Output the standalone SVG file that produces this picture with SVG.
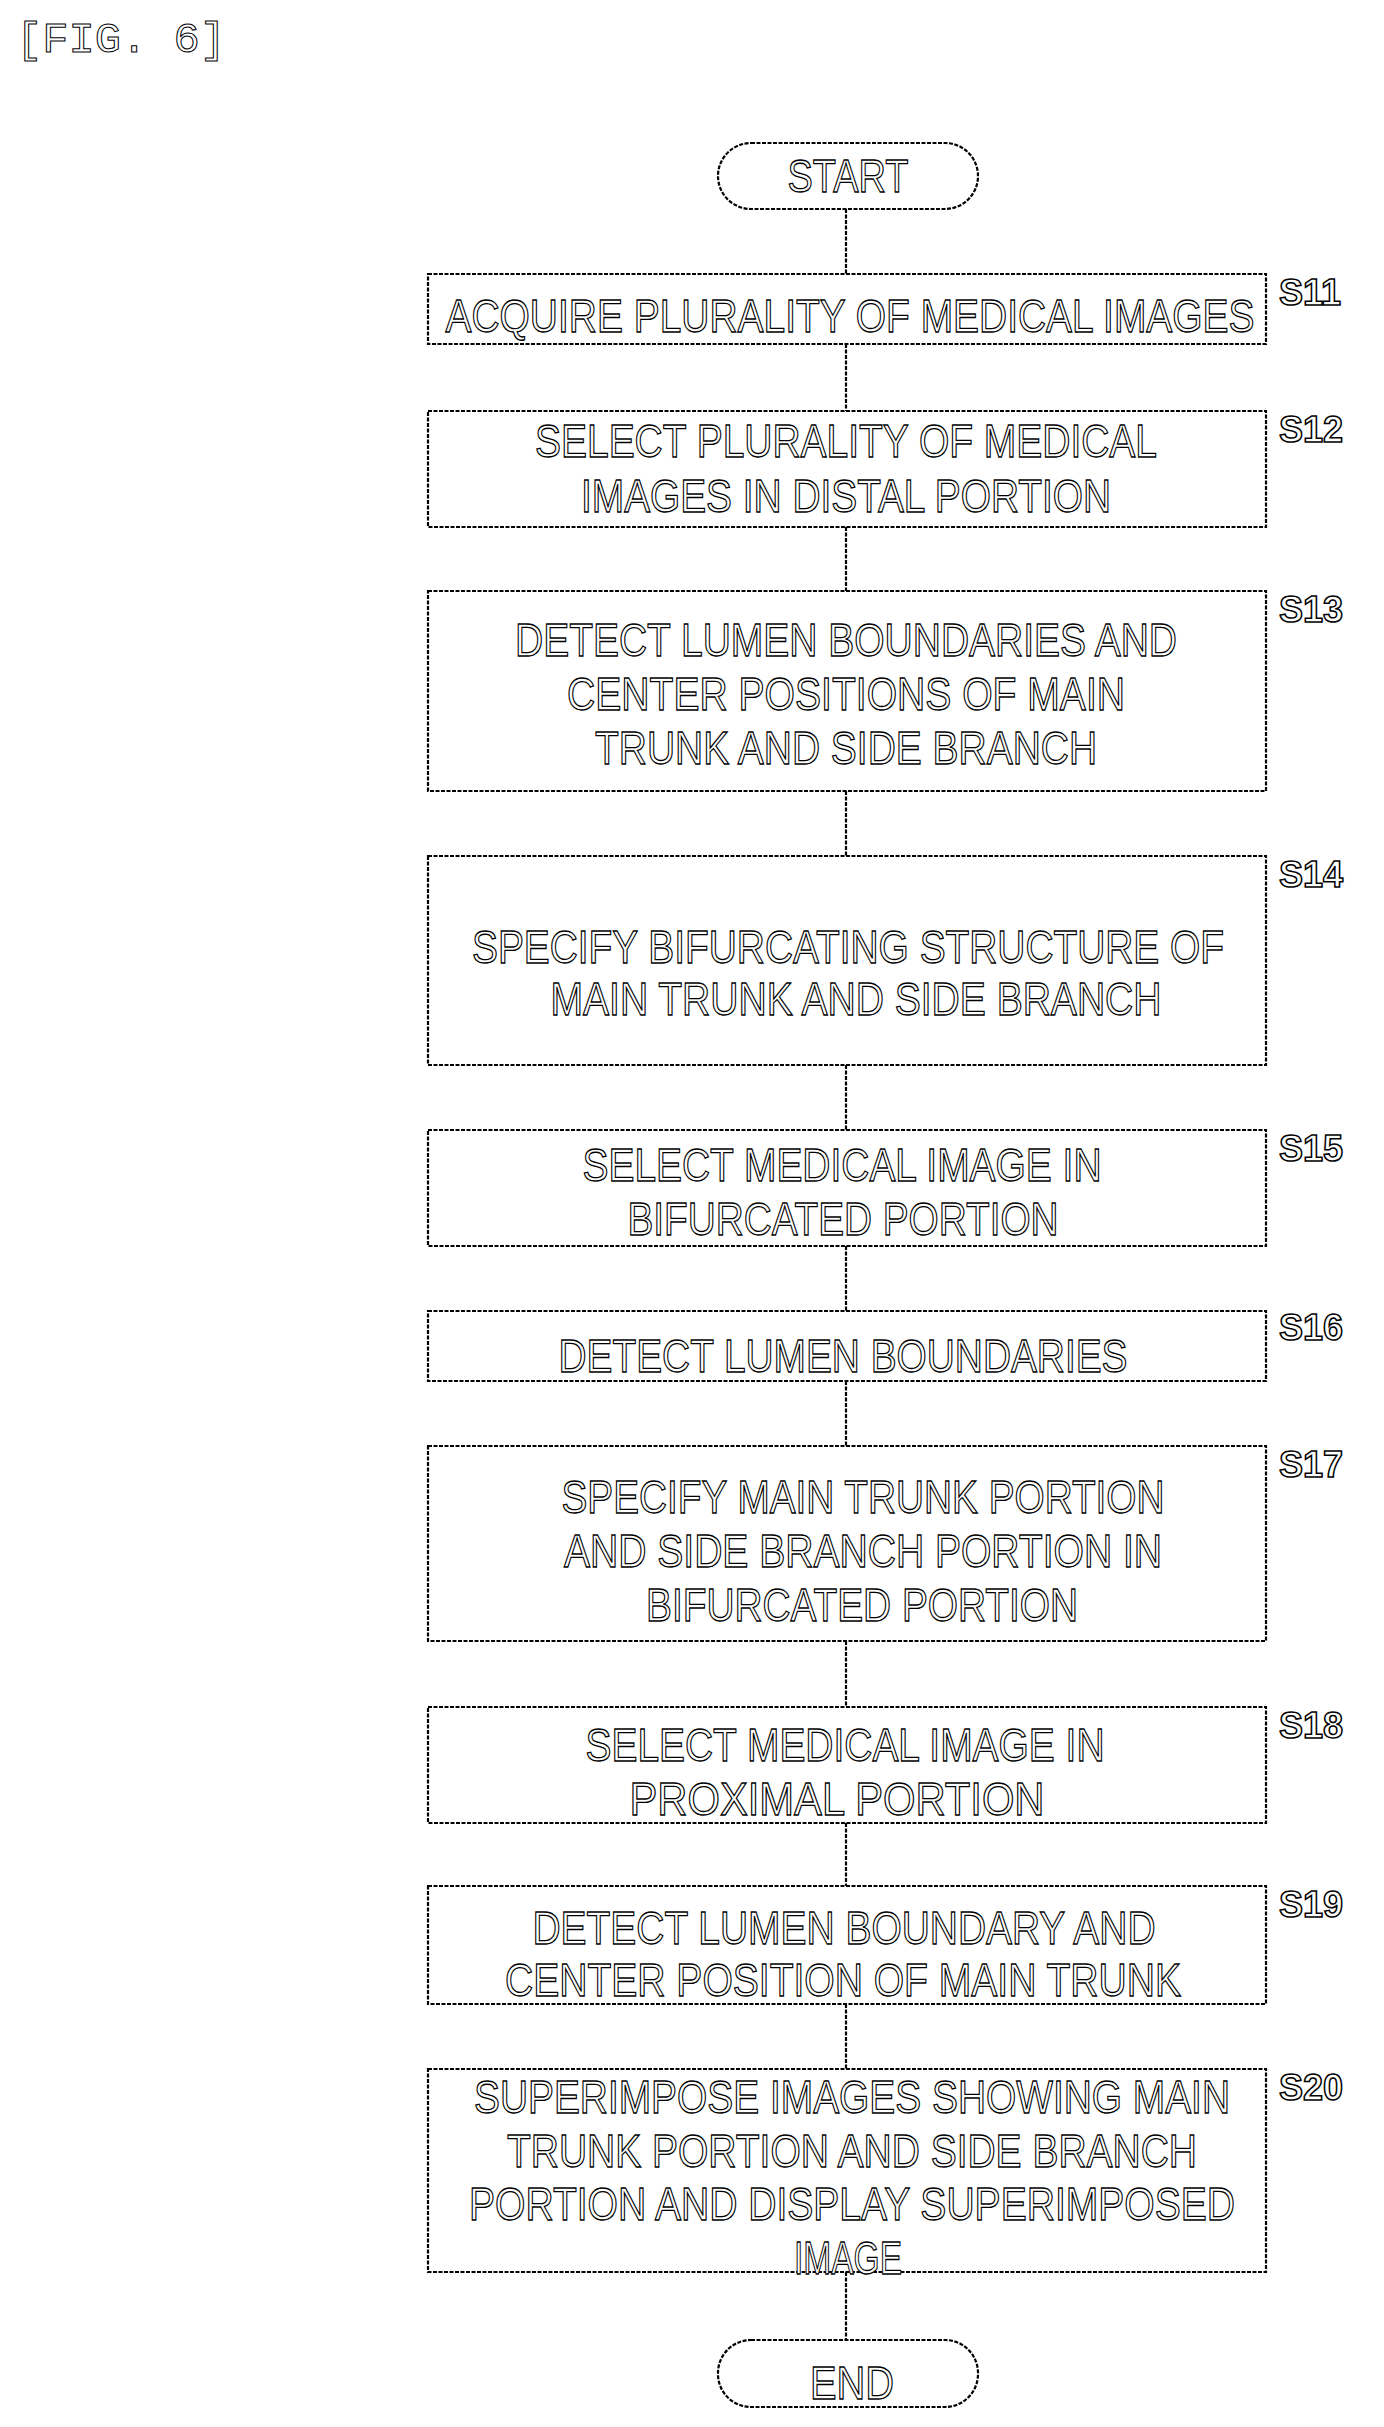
<svg xmlns="http://www.w3.org/2000/svg" width="1384" height="2427" viewBox="0 0 1384 2427">
<style>
.b{fill:#fff;stroke:#000;stroke-width:2.2;stroke-dasharray:4 1.5}
.c{stroke:#000;stroke-width:2.2;stroke-dasharray:4 1.5;fill:none}
.t{font-family:"Liberation Sans",Arial,sans-serif;font-size:47px;fill:#fff;stroke:#000;stroke-width:1.3;text-anchor:middle}
.l{font-family:"Liberation Sans",Arial,sans-serif;font-size:36px;font-weight:bold;fill:#fff;stroke:#000;stroke-width:1.5}
.f{font-family:"Liberation Mono","DejaVu Sans Mono",monospace;font-size:42px;fill:#fff;stroke:#000;stroke-width:1}
</style>
<rect width="1384" height="2427" fill="#fff"/>
<text class="f" x="16" y="52" textLength="210" lengthAdjust="spacingAndGlyphs">[FIG. 6]</text>
<g id="connectors">
<line class="c" x1="846" y1="209" x2="846" y2="274"/>
<line class="c" x1="846" y1="344" x2="846" y2="411"/>
<line class="c" x1="846" y1="527" x2="846" y2="591"/>
<line class="c" x1="846" y1="791" x2="846" y2="856"/>
<line class="c" x1="846" y1="1065" x2="846" y2="1130"/>
<line class="c" x1="846" y1="1246" x2="846" y2="1311"/>
<line class="c" x1="846" y1="1381" x2="846" y2="1446"/>
<line class="c" x1="846" y1="1641" x2="846" y2="1707"/>
<line class="c" x1="846" y1="1823" x2="846" y2="1886"/>
<line class="c" x1="846" y1="2004" x2="846" y2="2069"/>
<line class="c" x1="846" y1="2272" x2="846" y2="2340"/>
</g>
<g id="start"><rect class="b" x="718" y="143" width="260" height="66" rx="33"/><text class="t" x="848" y="192" textLength="121" lengthAdjust="spacingAndGlyphs">START</text></g>
<g id="s11"><rect class="b" x="428" y="274" width="838" height="70"/><text class="t" x="850" y="332" textLength="809" lengthAdjust="spacingAndGlyphs">ACQUIRE PLURALITY OF MEDICAL IMAGES</text><text class="l" x="1279" y="305">S11</text></g>
<g id="s12"><rect class="b" x="428" y="411" width="838" height="116"/><text class="t" x="846" y="457" textLength="622" lengthAdjust="spacingAndGlyphs">SELECT PLURALITY OF MEDICAL</text><text class="t" x="846" y="512" textLength="530" lengthAdjust="spacingAndGlyphs">IMAGES IN DISTAL PORTION</text><text class="l" x="1279" y="442">S12</text></g>
<g id="s13"><rect class="b" x="428" y="591" width="838" height="200"/><text class="t" x="846" y="656" textLength="662" lengthAdjust="spacingAndGlyphs">DETECT LUMEN BOUNDARIES AND</text><text class="t" x="846" y="710" textLength="558" lengthAdjust="spacingAndGlyphs">CENTER POSITIONS OF MAIN</text><text class="t" x="846" y="764" textLength="502" lengthAdjust="spacingAndGlyphs">TRUNK AND SIDE BRANCH</text><text class="l" x="1279" y="622">S13</text></g>
<g id="s14"><rect class="b" x="428" y="856" width="838" height="209"/><text class="t" x="848" y="963" textLength="752" lengthAdjust="spacingAndGlyphs">SPECIFY BIFURCATING STRUCTURE OF</text><text class="t" x="856" y="1015" textLength="611" lengthAdjust="spacingAndGlyphs">MAIN TRUNK AND SIDE BRANCH</text><text class="l" x="1279" y="887">S14</text></g>
<g id="s15"><rect class="b" x="428" y="1130" width="838" height="116"/><text class="t" x="842" y="1181" textLength="519" lengthAdjust="spacingAndGlyphs">SELECT MEDICAL IMAGE IN</text><text class="t" x="843" y="1235" textLength="431" lengthAdjust="spacingAndGlyphs">BIFURCATED PORTION</text><text class="l" x="1279" y="1161">S15</text></g>
<g id="s16"><rect class="b" x="428" y="1311" width="838" height="70"/><text class="t" x="843" y="1372" textLength="569" lengthAdjust="spacingAndGlyphs">DETECT LUMEN BOUNDARIES</text><text class="l" x="1279" y="1340">S16</text></g>
<g id="s17"><rect class="b" x="428" y="1446" width="838" height="195"/><text class="t" x="863" y="1513" textLength="603" lengthAdjust="spacingAndGlyphs">SPECIFY MAIN TRUNK PORTION</text><text class="t" x="863" y="1567" textLength="598" lengthAdjust="spacingAndGlyphs">AND SIDE BRANCH PORTION IN</text><text class="t" x="862" y="1621" textLength="432" lengthAdjust="spacingAndGlyphs">BIFURCATED PORTION</text><text class="l" x="1279" y="1477">S17</text></g>
<g id="s18"><rect class="b" x="428" y="1707" width="838" height="116"/><text class="t" x="845" y="1761" textLength="519" lengthAdjust="spacingAndGlyphs">SELECT MEDICAL IMAGE IN</text><text class="t" x="837" y="1815" textLength="415" lengthAdjust="spacingAndGlyphs">PROXIMAL PORTION</text><text class="l" x="1279" y="1738">S18</text></g>
<g id="s19"><rect class="b" x="428" y="1886" width="838" height="118"/><text class="t" x="844" y="1944" textLength="623" lengthAdjust="spacingAndGlyphs">DETECT LUMEN BOUNDARY AND</text><text class="t" x="843" y="1996" textLength="676" lengthAdjust="spacingAndGlyphs">CENTER POSITION OF MAIN TRUNK</text><text class="l" x="1279" y="1917">S19</text></g>
<g id="s20"><rect class="b" x="428" y="2069" width="838" height="203"/><text class="t" x="852" y="2113" textLength="756" lengthAdjust="spacingAndGlyphs">SUPERIMPOSE IMAGES SHOWING MAIN</text><text class="t" x="852" y="2167" textLength="690" lengthAdjust="spacingAndGlyphs">TRUNK PORTION AND SIDE BRANCH</text><text class="t" x="852" y="2220" textLength="766" lengthAdjust="spacingAndGlyphs">PORTION AND DISPLAY SUPERIMPOSED</text><text class="t" x="848" y="2274" textLength="108" lengthAdjust="spacingAndGlyphs">IMAGE</text><text class="l" x="1279" y="2100">S20</text></g>
<g id="end"><rect class="b" x="718" y="2340" width="260" height="67" rx="33"/><text class="t" x="852" y="2399" textLength="84" lengthAdjust="spacingAndGlyphs">END</text></g>
</svg>
